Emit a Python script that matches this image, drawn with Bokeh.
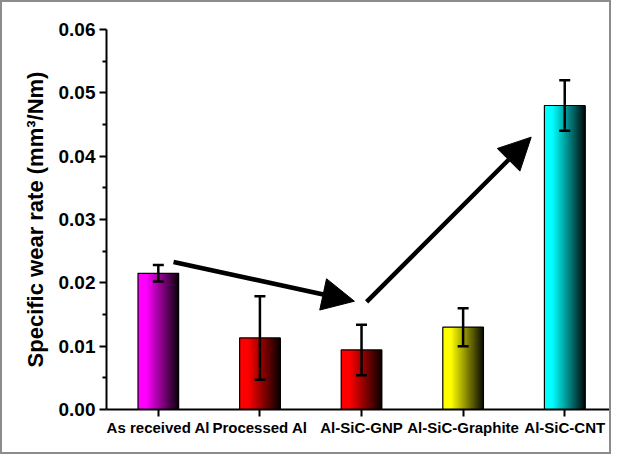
import numpy as np
from bokeh.plotting import figure
from bokeh.models import (Range1d, FixedTicker, Whisker, TeeHead, Arrow, NormalHead,
                          ColumnDataSource, NumeralTickFormatter)
from bokeh.embed import file_html
from bokeh.resources import INLINE

# ---- data ----
categories = ["As received Al", "Processed Al", "Al-SiC-GNP", "Al-SiC-Graphite", "Al-SiC-CNT"]
wear_rate = [0.0215, 0.0113, 0.0094, 0.0130, 0.0480]
wear_err = [0.0013, 0.0066, 0.0040, 0.0030, 0.0040]
bar_colors = ["#ff00ff", "#ff0000", "#ff0000", "#ffff00", "#00ffff"]
y_ticks = [0.00, 0.01, 0.02, 0.03, 0.04, 0.05, 0.06]
y_minor = [0.005, 0.015, 0.025, 0.035, 0.045, 0.055]
# trend arrows (x in category position, y in wear-rate units)
arrow_down = (1.15, 0.0233, 2.93, 0.0171)
arrow_up = (3.05, 0.0170, 4.67, 0.0430)

FONT = "Liberation Sans"
xs = list(range(1, len(categories) + 1))
bar_w = 0.4

p = figure(width=611, height=454, output_backend="svg", toolbar_location=None,
           x_range=Range1d(0.49, 5.48), y_range=Range1d(0.0, 0.06),
           min_border_left=104, min_border_right=0, min_border_top=27, min_border_bottom=47)
p.outline_line_color = None
p.xgrid.grid_line_color = None
p.ygrid.grid_line_color = None
p.styles = {"border": "2px solid #8c8c8c"}

# gradient bars built from layered strips (each covers from its left to the bar's right edge)
N = 60
sl, sr, stop, scol = [], [], [], []
for x, v, c in zip(xs, wear_rate, bar_colors):
    r, g, b = int(c[1:3], 16), int(c[3:5], 16), int(c[5:7], 16)
    for k in range(N):
        t = (k + 0.5) / N
        f = 1.0 if t < 0.2 else max(0.04, 1.0 - (t - 0.2) / 0.8 * 0.96)
        sl.append(x - bar_w / 2 + k * bar_w / N)
        sr.append(x + bar_w / 2)
        stop.append(v)
        scol.append("#%02x%02x%02x" % (int(r * f), int(g * f), int(b * f)))
strips = ColumnDataSource(dict(left=sl, right=sr, top=stop, color=scol))
p.quad(left="left", right="right", top="top", bottom=0, source=strips,
       fill_color="color", line_color=None)
p.vbar(x=xs, top=wear_rate, bottom=0, width=bar_w, fill_color=None,
       line_color="black", line_width=1.2)

# error bars
err = ColumnDataSource(dict(x=xs,
                            upper=[v + e for v, e in zip(wear_rate, wear_err)],
                            lower=[v - e for v, e in zip(wear_rate, wear_err)]))
p.add_layout(Whisker(base="x", upper="upper", lower="lower", source=err, level="overlay",
                     line_width=2.5, line_color="black",
                     upper_head=TeeHead(size=11, line_width=2.5),
                     lower_head=TeeHead(size=11, line_width=2.5)))

# arrows
for (x0, y0, x1, y1) in (arrow_down, arrow_up):
    p.add_layout(Arrow(x_start=x0, y_start=y0, x_end=x1, y_end=y1,
                       line_width=4.5, line_color="black",
                       end=NormalHead(size=32, fill_color="black", line_color="black")))

# axes
p.yaxis.ticker = FixedTicker(ticks=y_ticks, minor_ticks=y_minor)
p.yaxis.formatter = NumeralTickFormatter(format="0.00")
p.xaxis.ticker = FixedTicker(ticks=xs)
p.xaxis.major_label_overrides = {x: c for x, c in zip(xs, categories)}
p.xaxis.minor_tick_line_color = None
for ax in (p.xaxis, p.yaxis):
    ax.axis_line_width = 2
    ax.axis_line_color = "black"
    ax.major_tick_line_width = 2
    ax.major_tick_line_color = "black"
    ax.major_tick_in = 0
    ax.major_tick_out = 7
    ax.major_label_text_font = FONT
    ax.major_label_text_font_style = "bold"
    ax.major_label_text_color = "black"
p.yaxis.minor_tick_in = 0
p.yaxis.minor_tick_out = 4
p.yaxis.minor_tick_line_width = 2
p.yaxis.minor_tick_line_color = "black"
p.yaxis.major_label_text_font_size = "19px"
p.yaxis.major_label_standoff = 4
p.xaxis.major_label_text_font_size = "15px"
p.xaxis.major_label_standoff = 2
p.yaxis.axis_label = "Specific wear rate (mm³/Nm)"
p.yaxis.axis_label_text_font = FONT
p.yaxis.axis_label_text_font_style = "bold"
p.yaxis.axis_label_text_font_size = "22px"
p.yaxis.axis_label_text_color = "black"
p.yaxis.axis_label_standoff = 8

open("out.html", "w").write(file_html(p, INLINE))
